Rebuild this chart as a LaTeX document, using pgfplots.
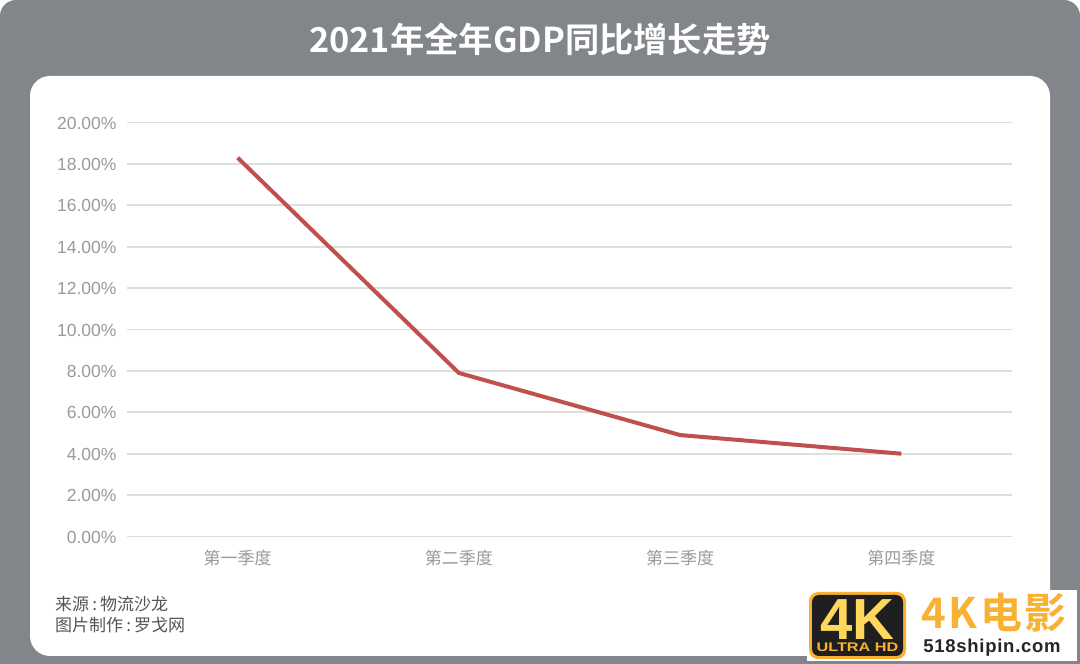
\documentclass[border=0pt]{standalone}
\usepackage{pgfplots}
\pgfplotsset{compat=1.18}
\usepackage{fontspec}
\setmainfont{Liberation Sans}
\newfontfamily\cjk{Noto Sans CJK SC}
\newfontfamily\cjkb{Noto Sans CJK SC Bold}
\newfontfamily\cjkw[LetterSpace=6]{Noto Sans CJK SC Bold}
\newfontfamily\urlf[LetterSpace=4]{Liberation Sans Bold}
\definecolor{bgg}{HTML}{82868A}
\definecolor{gridc}{HTML}{DEDEDE}
\definecolor{tickc}{HTML}{9A9A9A}
\definecolor{linec}{HTML}{C0504D}
\definecolor{srcc}{HTML}{555555}
\definecolor{gold}{HTML}{F8B133}
\definecolor{goldl}{HTML}{FFD75A}
\pgfplotstableread{
x y
0 18.3
1 7.9
2 4.9
3 4.0
}\gdpdata
\begin{document}
\begin{tikzpicture}[x=1pt,y=1pt]
\useasboundingbox (0,0) rectangle (1080,664);
\fill[white] (0,0) rectangle (1080,664);
\fill[bgg,rounded corners=16pt] (0,-30) rectangle (1080,664);
\fill[white,rounded corners=20pt] (30,8) rectangle (1050,588);
\node[text=white,anchor=center,font=\cjkb\fontsize{34.3}{36}\selectfont] at (540,625) {2021年全年GDP同比增长走势};
\begin{axis}[
  at={(127pt,127.5pt)},anchor=south west,
  scale only axis,width=885pt,height=414pt,
  xmin=-0.5,xmax=3.5,ymin=0,ymax=20,
  axis line style={draw=none},
  major tick length=0pt,
  xtick={0,1,2,3},
  xticklabels={第一季度,第二季度,第三季度,第四季度},
  x tick label style={font=\cjk\fontsize{17}{20}\selectfont,text=tickc,yshift=-10pt},
  ytick={0,2,...,20},
  yticklabel={\pgfmathprintnumber[assume math mode=true,fixed,fixed zerofill,precision=2]{\tick}\%},
  y tick label style={font=\fontsize{17.5}{18}\selectfont,text=tickc,xshift=-7pt,yshift=-0.5pt},
  ymajorgrids,
  grid style={draw=gridc,line width=1.7pt},
  clip=false,
]
\addplot[linec,line width=4pt,line join=round] table[x=x,y=y]{\gdpdata};
\end{axis}
\node[anchor=west,inner sep=0pt,text=srcc,font=\cjk\fontsize{17}{20}\selectfont] at (55,59.5) {来源\makebox[11pt]{:}物流沙龙};
\node[anchor=west,inner sep=0pt,text=srcc,font=\cjk\fontsize{17}{20}\selectfont] at (55,38.5) {图片制作\makebox[11pt]{:}罗戈网};
% watermark
\fill[white] (807,3) rectangle (1077,74);
\fill[gold,rounded corners=9pt] (809,5) rectangle (906,72);
\fill[black!88,rounded corners=7pt] (812,8) rectangle (903,69);
\node[text=goldl,inner sep=0pt,font=\bfseries\fontsize{58}{58}\selectfont,anchor=base] at (857.5,24) {4K};
\node[text=gold,inner sep=0pt,font=\bfseries\fontsize{12.5}{13}\selectfont,anchor=base,xscale=1.3,transform shape] at (857.5,12) {ULTRA HD};
\node[text=gold,inner sep=0pt,font=\cjkw\fontsize{42}{44}\selectfont,anchor=center] at (994,51) {4K电影};
\node[text=black!85,inner sep=0pt,font=\urlf\fontsize{18.5}{20}\selectfont,anchor=center] at (992,16.5) {518shipin.com};
\end{tikzpicture}
\end{document}
